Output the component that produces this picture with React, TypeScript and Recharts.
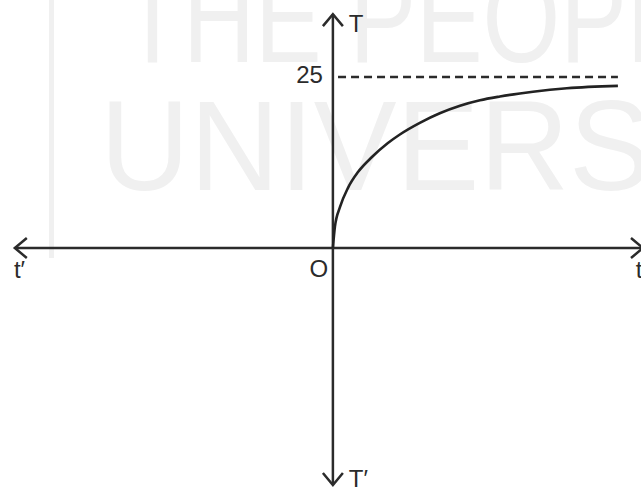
import { ComposedChart, Line, XAxis, YAxis, ReferenceLine, ReferenceDot } from 'recharts';

// curve T(t)
const timeValues = [0, 0.07, 0.25, 0.53, 0.88, 1.37, 1.93, 2.35, 3.05, 3.75, 4.46, 5.16, 5.86, 6.56, 7.02, 8.21, 10];
const tempValues = [0, 3.1, 6.0, 8.8, 11.1, 13.3, 15.35, 16.6, 18.3, 19.7, 20.8, 21.6, 22.15, 22.6, 22.85, 23.35, 23.7];

const asymptote = 25;
const asymptoteLabel = '25';

const X_DOMAIN: [number, number] = [-11.68, 10.81];
const Y_DOMAIN: [number, number] = [-35.09, 36.26];

// axis extents (arrow tips) in data units
const xAxisEnds = [-11.16, 10.88];
const yAxisEnds = [-34.65, 34.2];
const dashEnds = [0.18, 10];

const labels = [
    { text: 'T', x: 0.56, y: 31.6, anchor: 'start' },
    { text: 'T\u2032', x: 0.56, y: -34.9, anchor: 'start' },
    { text: asymptoteLabel, x: -0.35, y: 24.1, anchor: 'end' },
    { text: 'O', x: -0.49, y: -4.24, anchor: 'middle' },
    { text: 't\u2032', x: -11.19, y: -4.39, anchor: 'start' },
    { text: 't', x: 10.63, y: -4.39, anchor: 'start' },
];

const data = timeValues.map((t, i) => ({ t, temp: tempValues[i] }));

const INK = '#2b2b2b';
const WM = '#f0f0f0';

const ArrowAxis = (props: any) => {
    const { x1, y1, x2, y2 } = props;
    const dx = x2 - x1;
    const dy = y2 - y1;
    const len = Math.hypot(dx, dy) || 1;
    const ux = dx / len;
    const uy = dy / len;
    const l = 12;
    const h = 10;
    const head = (tx: number, ty: number, ax: number, ay: number) =>
        `M${tx - ax * l - ay * h},${ty - ay * l + ax * h} L${tx},${ty} L${tx - ax * l + ay * h},${ty - ay * l - ax * h}`;
    return (
        <g>
            <line x1={x1} y1={y1} x2={x2} y2={y2} stroke={INK} strokeWidth={2.5} />
            <path d={head(x2, y2, ux, uy) + ' ' + head(x1, y1, -ux, -uy)} fill="none" stroke={INK} strokeWidth={2.5} />
        </g>
    );
};

const Watermark = () => (
    <svg width={641} height={488} style={{ position: 'absolute', left: 0, top: 0 }}>
        <rect x={49} y={0} width={5} height={258} fill={WM} />
        <g transform="translate(122,62) scale(0.78,1)">
            <text x={0} y={0} fontFamily="'Liberation Sans', Arial, sans-serif" fontSize={128} fill={WM}>
                THE PEOPLE
            </text>
        </g>
        <g transform="translate(100,190) scale(0.97,1)">
            <text x={0} y={0} fontFamily="'Liberation Sans', Arial, sans-serif" fontSize={128} fill={WM}>
                UNIVERSITY
            </text>
        </g>
    </svg>
);

export default function App() {
    return (
        <div style={{ position: 'absolute', left: 0, top: 0, width: 641, height: 488, background: '#fff' }}>
            <Watermark />
            <div style={{ position: 'absolute', left: 0, top: 0 }}>
                <ComposedChart width={641} height={488} data={data} margin={{ top: 0, right: 0, bottom: 0, left: 0 }}>
                    <XAxis type="number" dataKey="t" domain={X_DOMAIN} allowDataOverflow hide />
                    <YAxis type="number" domain={Y_DOMAIN} allowDataOverflow hide />
                    <ReferenceLine
                        segment={[{ x: xAxisEnds[0], y: 0 }, { x: xAxisEnds[1], y: 0 }]}
                        ifOverflow="visible"
                        shape={ArrowAxis}
                    />
                    <ReferenceLine
                        segment={[{ x: 0, y: yAxisEnds[0] }, { x: 0, y: yAxisEnds[1] }]}
                        ifOverflow="visible"
                        shape={ArrowAxis}
                    />
                    <ReferenceLine
                        segment={[{ x: dashEnds[0], y: asymptote }, { x: dashEnds[1], y: asymptote }]}
                        ifOverflow="visible"
                        stroke={INK}
                        strokeWidth={2.5}
                        strokeDasharray="8 5"
                    />
                    <Line
                        type="monotone"
                        dataKey="temp"
                        stroke="#222"
                        strokeWidth={2.6}
                        strokeLinecap="butt"
                        dot={false}
                        activeDot={false}
                        isAnimationActive={false}
                    />
                    {labels.map((lb) => (
                        <ReferenceDot
                            key={lb.text}
                            x={lb.x}
                            y={lb.y}
                            ifOverflow="visible"
                            shape={(p: any) => (
                                <text
                                    x={p.cx}
                                    y={p.cy}
                                    textAnchor={lb.anchor}
                                    fontFamily="'Liberation Sans', Arial, sans-serif"
                                    fontSize={24}
                                    fill={INK}
                                >
                                    {lb.text}
                                </text>
                            )}
                        />
                    ))}
                </ComposedChart>
            </div>
        </div>
    );
}
